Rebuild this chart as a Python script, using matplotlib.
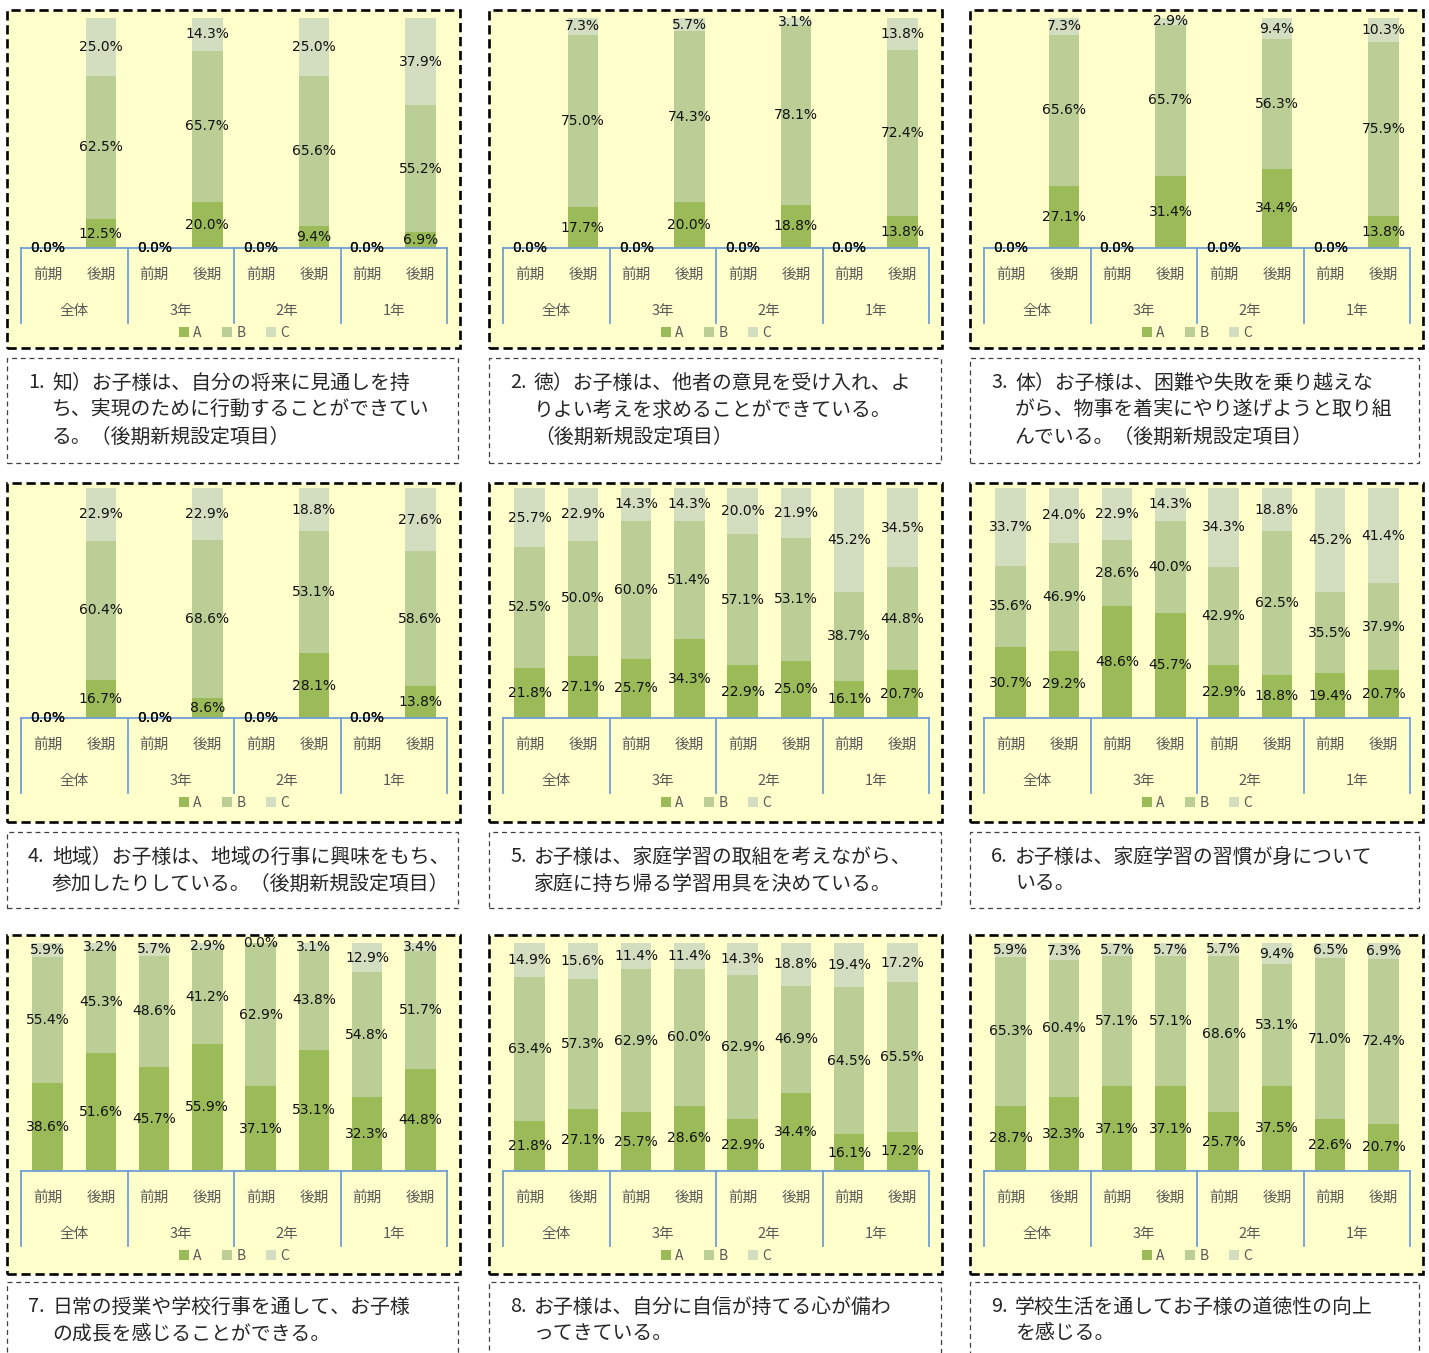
import matplotlib
matplotlib.use("Agg")
import matplotlib.pyplot as plt
from matplotlib.patches import Rectangle

plt.rcParams["font.family"] = ["Noto Sans CJK JP", "DejaVu Sans"]

# ── データ ─────────────────────────────────────────────
groups = ["全体", "3年", "2年", "1年"]
periods = ["前期", "後期"]
series = ["A", "B", "C"]
colors = ["#9BBB59", "#BACE96", "#D3DEC0"]

# 並び: 全体前期, 全体後期, 3年前期, 3年後期, 2年前期, 2年後期, 1年前期, 1年後期
q1_a = [0.0, 12.5, 0.0, 20.0, 0.0, 9.4, 0.0, 6.9]
q1_b = [0.0, 62.5, 0.0, 65.7, 0.0, 65.6, 0.0, 55.2]
q1_c = [0.0, 25.0, 0.0, 14.3, 0.0, 25.0, 0.0, 37.9]

q2_a = [0.0, 17.7, 0.0, 20.0, 0.0, 18.8, 0.0, 13.8]
q2_b = [0.0, 75.0, 0.0, 74.3, 0.0, 78.1, 0.0, 72.4]
q2_c = [0.0, 7.3, 0.0, 5.7, 0.0, 3.1, 0.0, 13.8]

q3_a = [0.0, 27.1, 0.0, 31.4, 0.0, 34.4, 0.0, 13.8]
q3_b = [0.0, 65.6, 0.0, 65.7, 0.0, 56.3, 0.0, 75.9]
q3_c = [0.0, 7.3, 0.0, 2.9, 0.0, 9.4, 0.0, 10.3]

q4_a = [0.0, 16.7, 0.0, 8.6, 0.0, 28.1, 0.0, 13.8]
q4_b = [0.0, 60.4, 0.0, 68.6, 0.0, 53.1, 0.0, 58.6]
q4_c = [0.0, 22.9, 0.0, 22.9, 0.0, 18.8, 0.0, 27.6]

q5_a = [21.8, 27.1, 25.7, 34.3, 22.9, 25.0, 16.1, 20.7]
q5_b = [52.5, 50.0, 60.0, 51.4, 57.1, 53.1, 38.7, 44.8]
q5_c = [25.7, 22.9, 14.3, 14.3, 20.0, 21.9, 45.2, 34.5]

q6_a = [30.7, 29.2, 48.6, 45.7, 22.9, 18.8, 19.4, 20.7]
q6_b = [35.6, 46.9, 28.6, 40.0, 42.9, 62.5, 35.5, 37.9]
q6_c = [33.7, 24.0, 22.9, 14.3, 34.3, 18.8, 45.2, 41.4]

q7_a = [38.6, 51.6, 45.7, 55.9, 37.1, 53.1, 32.3, 44.8]
q7_b = [55.4, 45.3, 48.6, 41.2, 62.9, 43.8, 54.8, 51.7]
q7_c = [5.9, 3.2, 5.7, 2.9, 0.0, 3.1, 12.9, 3.4]

q8_a = [21.8, 27.1, 25.7, 28.6, 22.9, 34.4, 16.1, 17.2]
q8_b = [63.4, 57.3, 62.9, 60.0, 62.9, 46.9, 64.5, 65.5]
q8_c = [14.9, 15.6, 11.4, 11.4, 14.3, 18.8, 19.4, 17.2]

q9_a = [28.7, 32.3, 37.1, 37.1, 25.7, 37.5, 22.6, 20.7]
q9_b = [65.3, 60.4, 57.1, 57.1, 68.6, 53.1, 71.0, 72.4]
q9_c = [5.9, 7.3, 5.7, 5.7, 5.7, 9.4, 6.5, 6.9]

q1_caption = ["知）お子様は、自分の将来に見通しを持",
              "ち、実現のために行動することができてい",
              "る。（後期新規設定項目）"]
q2_caption = ["徳）お子様は、他者の意見を受け入れ、よ",
              "りよい考えを求めることができている。",
              "（後期新規設定項目）"]
q3_caption = ["体）お子様は、困難や失敗を乗り越えな",
              "がら、物事を着実にやり遂げようと取り組",
              "んでいる。（後期新規設定項目）"]
q4_caption = ["地域）お子様は、地域の行事に興味をもち、",
              "参加したりしている。（後期新規設定項目）"]
q5_caption = ["お子様は、家庭学習の取組を考えながら、",
              "家庭に持ち帰る学習用具を決めている。"]
q6_caption = ["お子様は、家庭学習の習慣が身について",
              "いる。"]
q7_caption = ["日常の授業や学校行事を通して、お子様",
              "の成長を感じることができる。"]
q8_caption = ["お子様は、自分に自信が持てる心が備わ",
              "ってきている。"]
q9_caption = ["学校生活を通してお子様の道徳性の向上",
              "を感じる。"]

questions = [
    (q1_a, q1_b, q1_c, q1_caption),
    (q2_a, q2_b, q2_c, q2_caption),
    (q3_a, q3_b, q3_c, q3_caption),
    (q4_a, q4_b, q4_c, q4_caption),
    (q5_a, q5_b, q5_c, q5_caption),
    (q6_a, q6_b, q6_c, q6_caption),
    (q7_a, q7_b, q7_c, q7_caption),
    (q8_a, q8_b, q8_c, q8_caption),
    (q9_a, q9_b, q9_c, q9_caption),
]

# ── レイアウト (ピクセル) ───────────────────────────────
W, H = 1429, 1353
col_x = [(7, 460), (489, 942), (970, 1423)]
cap_x = [(7, 458), (489, 941), (970, 1419)]
row_box = [(10, 348), (483, 822), (935, 1274)]
row_plot = [(18, 248), (488, 718), (943, 1171)]   # (100%, 0%)
row_cap = [(358, 463), (832, 908), (1282, 1365)]

PT = 72 / 100  # px -> pt
AXIS_C = "#6F9FD8"
TXT_C = "#595959"
LABEL_FONT = ["Liberation Sans Narrow", "DejaVu Sans"]


def fig_rect(x0, y0, x1, y1, **kw):
    return Rectangle((x0 / W, 1 - y1 / H), (x1 - x0) / W, (y1 - y0) / H,
                     transform=fig.transFigure, **kw)


fig = plt.figure(figsize=(W / 100, H / 100), dpi=100)
fig.patch.set_facecolor("white")

x = list(range(8))
for i, (a, b, c, caption) in enumerate(questions):
    r, col = divmod(i, 3)
    bx0, bx1 = col_x[col]
    by0, by1 = row_box[r]
    top, base = row_plot[r]

    fig.add_artist(fig_rect(bx0, by0, bx1, by1, facecolor="#FFFFCC",
                            edgecolor="black", lw=1.9,
                            linestyle=(0, (3.5, 1.8)), zorder=-5))

    ax_h = base - top
    ax = fig.add_axes([(bx0 + 14) / W, 1 - base / H,
                       (bx1 - 13 - bx0 - 14) / W, ax_h / H])
    ax.set_facecolor("none")

    bottom = [0.0] * 8
    for vals, name, clr in zip((a, b, c), series, colors):
        bars = ax.bar(x, vals, width=0.57, bottom=bottom, color=clr,
                      label=name, zorder=2)
        ax.bar_label(bars, labels=[f"{v:.1f}%" for v in vals],
                     label_type="center", fontsize=10, color="#111111",
                     family=LABEL_FONT, zorder=4)
        bottom = [s + v for s, v in zip(bottom, vals)]

    ax.set_xlim(-0.5, 7.5)
    ax.set_ylim(0, 100)
    ax.set_yticks([])
    for s in ("left", "right", "top"):
        ax.spines[s].set_visible(False)
    ax.spines["bottom"].set_color(AXIS_C)
    ax.spines["bottom"].set_linewidth(1.3)
    ax.spines["bottom"].set_zorder(3)

    ax.set_xticks(x)
    ax.set_xticklabels(periods * 4)
    ax.tick_params(axis="x", length=0, pad=14, labelsize=10.5,
                   labelcolor=TXT_C)

    # 区切り線とグループ名
    xt = ax.get_xaxis_transform()
    for sep in [-0.5, 1.5, 3.5, 5.5, 7.5]:
        ax.plot([sep, sep], [0, -75 / ax_h], color=AXIS_C, lw=1.3,
                transform=xt, clip_on=False)
    for g, name in enumerate(groups):
        ax.annotate(name, xy=(2 * g + 0.5, 0), xycoords=xt,
                    xytext=(0, -63 * PT), textcoords="offset points",
                    ha="center", va="center", fontsize=10.5, color=TXT_C)

    ax.legend(loc="center", bbox_to_anchor=(0.5, -85 / ax_h), ncol=3,
              frameon=False, fontsize=10, labelcolor=TXT_C,
              handlelength=0.7, handleheight=0.7, handletextpad=0.3,
              columnspacing=1.5, borderpad=0)

    # 設問ボックス
    cx0, cx1 = cap_x[col]
    cy0, cy1 = row_cap[r]
    fig.add_artist(fig_rect(cx0, cy0, cx1, cy1, facecolor="white",
                            edgecolor="#404040", lw=0.9,
                            linestyle=(0, (4, 3)), zorder=-5))
    fig.text((cx0 + 21) / W, 1 - (cy0 + 25) / H, f"{i + 1}.",
             fontsize=14.3, color="#262626", ha="left", va="center")
    for k, line in enumerate(caption):
        fig.text((cx0 + 45) / W, 1 - (cy0 + 25 + 27 * k) / H, line,
                 fontsize=14.3, color="#262626", ha="left", va="center")

fig.savefig("out.png", dpi=100, facecolor="white")
